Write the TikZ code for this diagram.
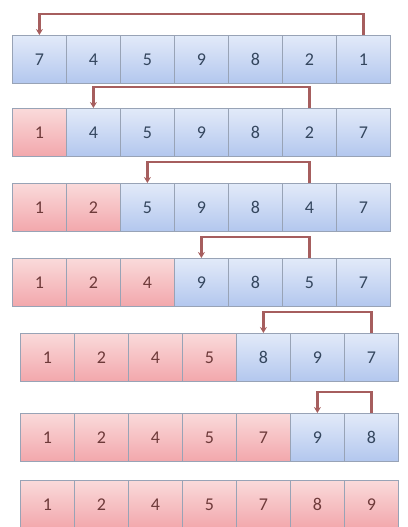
\documentclass[tikz,border=0pt]{standalone}
\usepackage{fontspec}
\setmainfont{Carlito}
\usetikzlibrary{arrows.meta}

\definecolor{bluetop}{HTML}{E2EAF9}
\definecolor{bluebot}{HTML}{B3C7EE}
\definecolor{redtop}{HTML}{FADADA}
\definecolor{redbot}{HTML}{F2A7AC}
\definecolor{cellline}{HTML}{98A3B6}
\definecolor{swapred}{HTML}{A65E5E}
\definecolor{bluetext}{HTML}{34465E}
\definecolor{redtext}{HTML}{6E3A3A}

\newcommand*{\cellw}{54}
\newcommand*{\cellh}{48}
\newcommand*{\rise}{21}

\begin{document}
\begin{tikzpicture}
[
	x=1pt, y=-1pt,
	cell/.style={draw=cellline,line width=0.8pt,inner sep=0pt,anchor=north west,
		minimum width=\cellw pt,minimum height=\cellh pt,font=\fontsize{18}{20}\selectfont},
	bluecell/.style={cell,top color=bluetop,bottom color=bluebot,text=bluetext},
	redcell/.style={cell,top color=redtop,bottom color=redbot,text=redtext},
	swaparrow/.style={draw=swapred,line width=2.4pt,-{Stealth[length=6pt,width=7pt]}}
]

	\useasboundingbox (0,0) rectangle (407,527);

	% rows: number / left / top / sorted cells / values
	\foreach \row/\xo/\yt/\nsorted/\vals in {
		1/12/35/0/{7,4,5,9,8,2,1},
		2/12/108/1/{1,4,5,9,8,2,7},
		3/12/183/2/{1,2,5,9,8,4,7},
		4/12/258/3/{1,2,4,9,8,5,7},
		5/20/333/4/{1,2,4,5,8,9,7},
		6/20/413/5/{1,2,4,5,7,9,8},
		7/20/480/7/{1,2,4,5,7,8,9}}
	{
		\foreach \v [count=\c] in \vals {
			\ifnum\c>\nsorted \def\cellstyle{bluecell}\else\def\cellstyle{redcell}\fi
			\node[\cellstyle] (r\row c\c) at ({\xo+\cellw*(\c-1)},\yt) {\v};
		}
	}

	% swaps
	\draw[swaparrow] (r1c7.north) -- ++(0,-\rise) -| (r1c1.north);
	\draw[swaparrow] (r2c6.north) -- ++(0,-\rise) -| (r2c2.north);
	\draw[swaparrow] (r3c6.north) -- ++(0,-\rise) -| (r3c3.north);
	\draw[swaparrow] (r4c6.north) -- ++(0,-\rise) -| (r4c4.north);
	\draw[swaparrow] (r5c7.north) -- ++(0,-\rise) -| (r5c5.north);
	\draw[swaparrow] (r6c7.north) -- ++(0,-\rise) -| (r6c6.north);

\end{tikzpicture}
\end{document}
